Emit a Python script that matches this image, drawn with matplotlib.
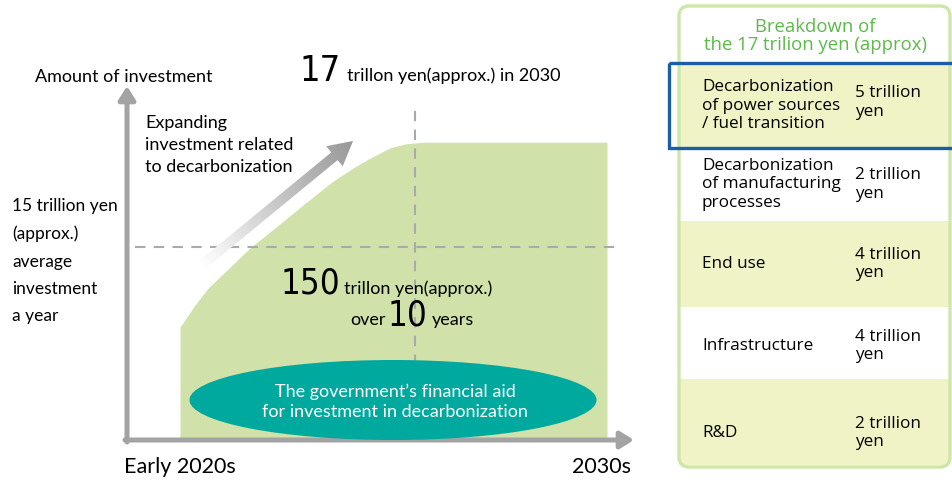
import matplotlib.pyplot as plt
import matplotlib.font_manager as fm
import numpy as np
from matplotlib.patches import FancyArrow, FancyBboxPatch, Rectangle, Ellipse
from matplotlib.colors import LinearSegmentedColormap

# Curva de inversión (años desde inicios de 2020, nivel relativo 0-100)
years = [0, 0.35, 0.66, 1.05, 1.64, 2.22, 2.86, 3.56, 4.05, 4.45, 4.92, 5.27, 5.69, 10]
level = [31.8, 38.0, 42.8, 47.3, 54.1, 59.7, 66.0, 72.7, 76.6, 79.4, 82.3, 83.4, 83.9, 83.9]
avg_level = 54.4      # 15 billones de yenes por año (aprox.)
year_2030 = 5.5

# Desglose de los 17 billones de yenes
categories = ['Decarbonization\nof power sources\n/ fuel transition',
              'Decarbonization\nof manufacturing\nprocesses',
              'End use', 'Infrastructure', 'R&D']
amounts = [5, 2, 4, 4, 2]

LEFT_FONT = ['Lato', 'DejaVu Sans']
RIGHT_FONT = ['Open Sans', 'DejaVu Sans']
GREEN_FILL = '#d0e2a9'
GREY = '#a3a3a3'

# Buscar una fuente estrecha para los números grandes
cond = [f for f in fm.fontManager.ttflist
        if f.stretch in ('condensed', 'semi-condensed', 'extra-condensed')
        and f.style == 'normal' and f.weight in (300, 400, 'normal', 'regular', 'light')]
cond.sort(key=lambda f: ('Sans' not in f.name, f.name))
if cond:
    big_kw = dict(fontproperties=fm.FontProperties(fname=cond[0].fname))
    big_sizes = (26, 25)
else:
    big_kw = dict(family=LEFT_FONT)
    big_sizes = (25, 24)

fig = plt.figure(figsize=(9.53, 4.82), dpi=100)

# Ejes del diagrama (coordenadas de datos)
cax = fig.add_axes([180 / 953, (482 - 440) / 482, (607 - 180) / 953, (440 - 85) / 482])
cax.set_xlim(0, 10)
cax.set_ylim(0, 100)
cax.axis('off')
cax.fill_between(years, 0, level, color=GREEN_FILL, lw=0, zorder=1)
cax.plot([-1.06, 10.35], [avg_level, avg_level], color='#aaaaaa', lw=1.5,
         ls=(0, (5, 4)), clip_on=False, zorder=2)
cax.plot([year_2030, year_2030], [0, 93], color='#aaaaaa', lw=1.5,
         ls=(0, (5, 4)), clip_on=False, zorder=2)

# Capa superior en píxeles para textos y formas
ax = fig.add_axes([0, 0, 1, 1])
ax.set_xlim(0, 953)
ax.set_ylim(482, 0)
ax.axis('off')
ax.patch.set_alpha(0)

# Ejes con flechas
ax.annotate('', xy=(127, 86), xytext=(127, 442),
            arrowprops=dict(arrowstyle='-|>,head_width=0.5,head_length=0.8',
                            color=GREY, lw=3.6, shrinkA=0, shrinkB=0))
ax.annotate('', xy=(634, 440), xytext=(125, 440),
            arrowprops=dict(arrowstyle='-|>,head_width=0.5,head_length=0.8',
                            color=GREY, lw=3.6, shrinkA=0, shrinkB=0))

# Flecha con degradado
arr = FancyArrow(202, 265, 151, -124, width=10, head_width=26, head_length=24,
                 length_includes_head=True, transform=ax.transData, lw=0, fc='none')
ax.add_patch(arr)
gx, gy = np.meshgrid(np.linspace(190, 365, 200), np.linspace(130, 275, 200))
d = np.array([151, -124]) / np.hypot(151, -124)
proj = ((gx - 202) * d[0] + (gy - 265) * d[1]) / 195
cmap = LinearSegmentedColormap.from_list('g', ['#ffffff', '#c8c8c8', '#999999'])
im = ax.imshow(proj, extent=[190, 365, 275, 130], cmap=cmap, vmin=0, vmax=1,
               origin='upper', zorder=3, aspect='auto')
im.set_clip_path(arr)

# Textos del diagrama
ax.text(35, 77, 'Amount of investment', family=LEFT_FONT, fontsize=13, va='center')
ax.text(145, 115, 'Expanding\ninvestment related\nto decarbonization', family=LEFT_FONT,
        fontsize=13, va='top', linespacing=1.45)
ax.text(12, 261, '15 trillion yen\n(approx.)\naverage\ninvestment\na year', family=LEFT_FONT,
        fontsize=12.5, va='center', linespacing=1.85)
ax.text(341, 81, '17', fontsize=big_sizes[0], ha='right', va='baseline', **big_kw)
ax.text(347, 81, 'trillon yen(approx.) in 2030', family=LEFT_FONT, fontsize=13, va='baseline')
ax.text(340, 294, '150', fontsize=big_sizes[1], ha='right', va='baseline', **big_kw)
ax.text(344, 294, 'trillon yen(approx.)', family=LEFT_FONT, fontsize=13, va='baseline')
ax.text(350, 325, 'over', family=LEFT_FONT, fontsize=13, va='baseline')
ax.text(427, 325, '10', fontsize=big_sizes[1], ha='right', va='baseline', **big_kw)
ax.text(432, 325, 'years', family=LEFT_FONT, fontsize=13, va='baseline')
ax.text(180, 467, 'Early 2020s', family=LEFT_FONT, fontsize=15.5, ha='center', va='center')
ax.text(631, 467, '2030s', family=LEFT_FONT, fontsize=15.5, ha='right', va='center')

ax.add_patch(Ellipse((393, 400), 407, 80, color='#00a99d', lw=0, zorder=4))
ax.text(395, 402, 'The government\u2019s financial aid\nfor investment in decarbonization',
        family=LEFT_FONT, fontsize=13, color='white', ha='center', va='center',
        linespacing=1.35, zorder=5)

# Panel de desglose
row_edges = [63, 148, 221, 307, 379, 465]
text_shift = [0, 0, 0, 3, 11]
ax.add_patch(FancyBboxPatch((679, 6), 271, 461, boxstyle='round,pad=0,rounding_size=10',
                            fc='white', ec='none', zorder=1))
for i, (cat, amt) in enumerate(zip(categories, amounts)):
    top, bot = row_edges[i], row_edges[i + 1]
    if i % 2 == 0:
        ax.add_patch(Rectangle((680, top), 269, bot - top, fc='#eff3c5', ec='none', zorder=2))
    yc = (top + bot) / 2 + text_shift[i]
    ax.text(702, yc, cat, family=RIGHT_FONT, fontsize=12.3, va='center', linespacing=1.17, zorder=6)
    ax.text(855, yc - 3 if i == 0 else yc, f'{amt} trillion\nyen', family=RIGHT_FONT,
            fontsize=12.3, va='center', linespacing=1.17, zorder=6)
ax.add_patch(FancyBboxPatch((679, 6), 271, 461, boxstyle='round,pad=0,rounding_size=10',
                            fc='none', ec='#cfe6ab', lw=2.4, zorder=3))
ax.add_patch(Rectangle((669, 63), 300, 85, fc='none', ec='#1a5fa5', lw=2.4,
                       clip_on=True, zorder=4))
ax.text(815, 36, 'Breakdown of\nthe 17 trilion yen (approx)', family=RIGHT_FONT,
        fontsize=13.3, color='#5cb94a', ha='center', va='center', linespacing=0.95)

fig.savefig('out.png', dpi=100)
